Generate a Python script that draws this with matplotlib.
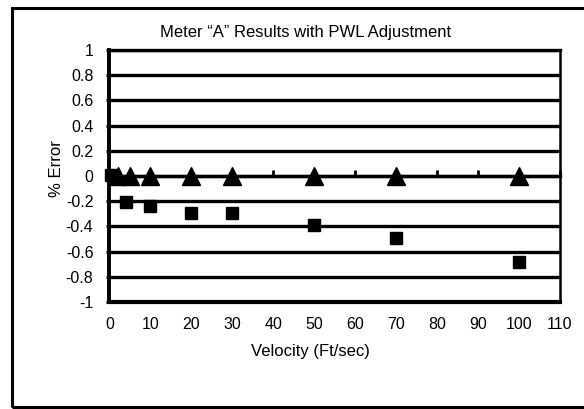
import matplotlib
matplotlib.use('Agg')
import matplotlib.pyplot as plt
from matplotlib.patches import Rectangle

plt.rcParams['font.family'] = ['Liberation Sans', 'DejaVu Sans']

# meter A, PWL adjusted vs not adjusted (% error)
vel_adj = [2, 5, 10, 20, 30, 50, 70, 100]
err_adj = [0.0, 0.0, 0.0, 0.0, 0.0, 0.0, 0.0, 0.0]
vel_raw = [0.5, 4, 10, 20, 30, 50, 70, 100]
err_raw = [0.01, -0.21, -0.24, -0.29, -0.29, -0.39, -0.49, -0.68]

xticks = [0, 10, 20, 30, 40, 50, 60, 70, 80, 90, 100, 110]
yticks = [-1, -0.8, -0.6, -0.4, -0.2, 0, 0.2, 0.4, 0.6, 0.8, 1]
ytick_labels = ['-1', '-0.8', '-0.6', '-0.4', '-0.2', '0', '0.2', '0.4', '0.6', '0.8', '1']

fig = plt.figure(figsize=(5.84, 4.09), dpi=100)
ax = fig.add_axes([0.1873, 0.2616, 0.7716, 0.6161])

ax.set_xlim(0, 110)
ax.set_ylim(-1, 1)
ax.set_yticks(yticks)
ax.set_yticklabels(ytick_labels)
ax.set_xticks(xticks)
ax.grid(axis='y', color='black', linewidth=2.4)
ax.set_axisbelow(True)

ax.plot(vel_raw, err_raw, linestyle='none', marker='s', markersize=8,
        color='black', clip_on=False, zorder=3)
ax.plot(vel_adj, err_adj, linestyle='none', marker='^', markersize=13,
        color='black', clip_on=False, zorder=4)

for side, lw in [('left', 2.8), ('bottom', 3.0), ('right', 1.8), ('top', 2.4)]:
    ax.spines[side].set_linewidth(lw)
    ax.spines[side].set_color('black')

ax.tick_params(axis='y', direction='inout', length=5, width=2, pad=9, labelsize=11.5)
ax.tick_params(axis='x', length=0, pad=11, labelsize=11.5)

# x axis crosses at zero (excel style), ticks only
sec = ax.secondary_xaxis(0.5)
sec.set_xticks(xticks)
sec.set_xticklabels([])
sec.tick_params(direction='out', length=4, width=2)
for s in sec.spines.values():
    s.set_linewidth(2.4)

ax.set_ylabel('% Error', fontsize=12)
ax.yaxis.set_label_coords(-0.1, 0.53)
ax.set_xlabel('Velocity (Ft/sec)', fontsize=12)
ax.xaxis.set_label_coords(0.446, -0.165)

fig.text(306 / 584, 1 - 32 / 409, 'Meter \u201cA\u201d Results with PWL Adjustment',
         ha='center', va='center', fontsize=12)

fig.patches.append(Rectangle((12 / 584, 2 / 409), 1.05, 0.976, transform=fig.transFigure,
                             fill=False, edgecolor='black', linewidth=2.2))

plt.savefig('out.png', dpi=100)
